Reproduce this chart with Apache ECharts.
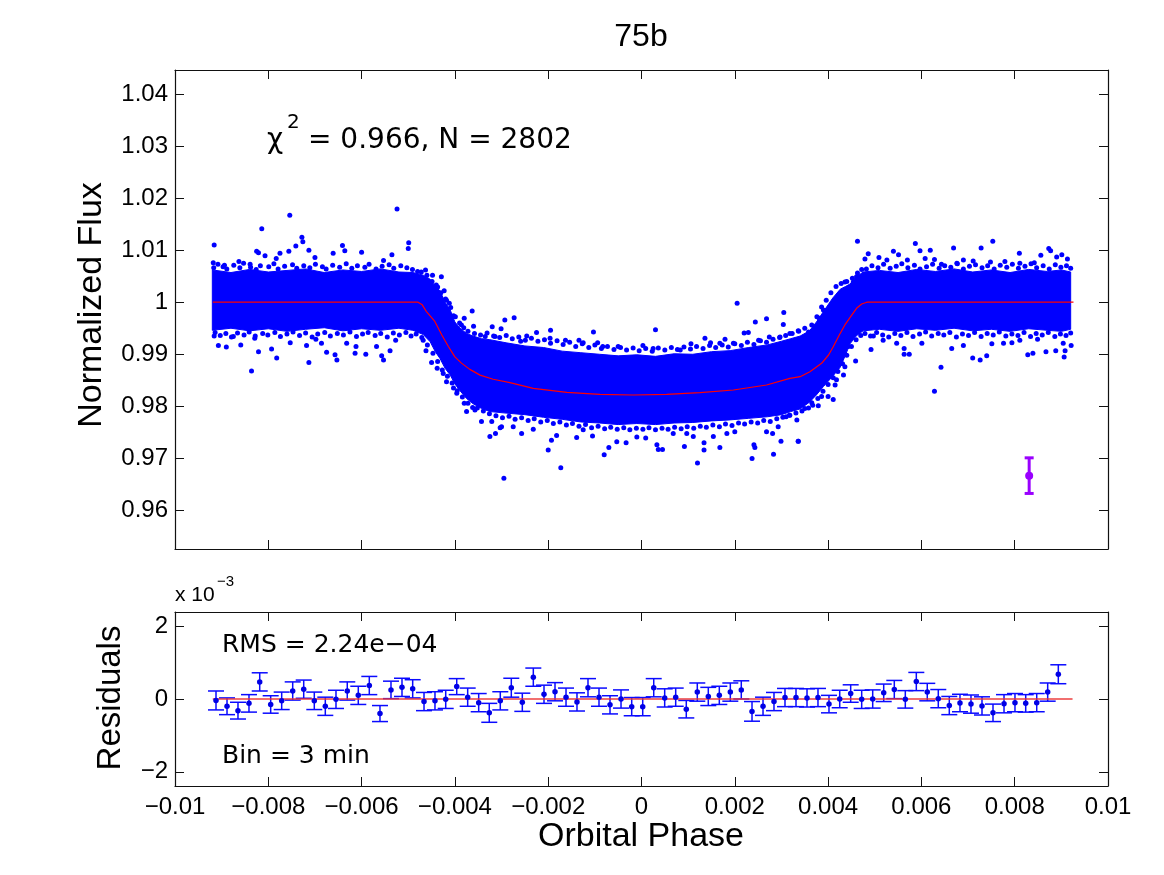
<!DOCTYPE html>
<html><head><meta charset="utf-8">
<script src="https://cdn.jsdelivr.net/npm/echarts@6/dist/echarts.min.js"></script>
<style>html,body{margin:0;padding:0;background:#fff}#c{width:1164px;height:875px}</style>
</head><body><div id="c"></div><script>
// ---------- tick labels ----------
const phaseTicks = [-0.01,-0.008,-0.006,-0.004,-0.002,0,0.002,0.004,0.006,0.008,0.01];
const fluxTicks = [0.96,0.97,0.98,0.99,1,1.01,1.02,1.03,1.04];
const residTicks = [-2,0,2];

// ---------- transit model (red curve) ----------
const modelPhase = [-0.00919,-0.00479,-0.00470,-0.00461,-0.00443,-0.00428,-0.00414,-0.00400,-0.00386,-0.00368,-0.00346,-0.00318,-0.00282,-0.00232,-0.00160,-0.00089,-0.00018,0.00054,0.00125,0.00197,0.00268,0.00318,0.00340,0.00361,0.00386,0.00401,0.00411,0.00424,0.00436,0.00451,0.00461,0.00472,0.00483,0.00926];
const modelFlux = [1,1,0.9995,0.9982,0.9963,0.9937,0.9915,0.9895,0.9883,0.9871,0.9860,0.9852,0.98455,0.98346,0.98269,0.98231,0.98218,0.98231,0.98263,0.98314,0.98410,0.98538,0.98570,0.98666,0.98826,0.98986,0.99146,0.99370,0.99563,0.99755,0.99883,0.99966,1,1];

// ---------- dense core of the photometry cloud (upper / lower envelope) ----------
const bandPhase = [-0.0092,-0.0088,-0.0084,-0.0080,-0.0076,-0.0072,-0.0068,-0.0064,-0.0060,-0.0056,-0.0052,-0.0049,
  -0.00468,-0.00453,-0.00442,-0.00432,-0.00421,-0.0041,-0.0040,-0.00389,-0.00375,-0.00361,-0.00343,-0.00325,
  -0.0029,-0.0025,-0.0021,-0.0017,-0.0013,-0.0009,-0.0005,-0.0001,0.0003,0.0007,0.0011,0.0015,0.0019,0.0023,0.0027,0.0030,
  0.0032,0.0034,0.0036,0.00375,0.0039,0.0041,0.00426,0.00437,0.00447,0.0046,0.00475,
  0.0051,0.0055,0.0059,0.0063,0.0067,0.0071,0.0075,0.0079,0.0083,0.0087,0.0090,0.0092];
const bandUpper = [1.0062,1.0057,1.0063,1.0058,1.0061,1.0064,1.0057,1.0062,1.0059,1.0064,1.0058,1.0057,
  1.0052,1.0044,1.0030,1.0022,1.0000,0.9985,0.9962,0.9950,0.9940,0.9935,0.9930,0.9928,
  0.9922,0.9916,0.9913,0.9906,0.9903,0.9900,0.9897,0.9899,0.9896,0.9901,0.9900,0.9905,0.9907,0.9913,0.9918,0.9925,
  0.9930,0.9935,0.9945,0.9962,0.9982,1.0008,1.0025,1.0030,1.0035,1.0048,1.0058,
  1.0061,1.0057,1.0063,1.0059,1.0064,1.0058,1.0062,1.0057,1.0063,1.0059,1.0062,1.0058];
const bandLower = [0.9946,0.9950,0.9945,0.9949,0.9944,0.9948,0.9951,0.9945,0.9949,0.9946,0.9950,0.9946,
  0.9938,0.9924,0.9905,0.9892,0.9873,0.9860,0.9843,0.9830,0.9815,0.9805,0.9796,0.9790,
  0.9787,0.9784,0.9779,0.9775,0.9770,0.9768,0.9765,0.9767,0.9765,0.9768,0.9769,0.9772,0.9774,0.9777,0.9780,0.9784,
  0.9790,0.9795,0.9808,0.9822,0.9838,0.9858,0.9875,0.9898,0.9920,0.9935,0.9945,
  0.9948,0.9944,0.9949,0.9946,0.9950,0.9945,0.9948,0.9944,0.9949,0.9946,0.9944,0.9948];

// ---------- individual observations along the cloud edges ----------
const edgePoints = [
[-0.00917,1.0066],[-0.00908,1.0073],[-0.00897,1.0068],[-0.00889,1.0064],[-0.00874,1.0071],[-0.00861,1.0066],[-0.00853,1.0075],[-0.00838,1.0067],[-0.00826,1.0063],[-0.00817,1.0070],[-0.00799,1.0068],[-0.00788,1.0074],[-0.00779,1.0064],[-0.00765,1.0069],[-0.00748,1.0072],[-0.00739,1.0065],[-0.00724,1.0070],[-0.00711,1.0066],[-0.00699,1.0073],[-0.00684,1.0068],[-0.00676,1.0064],[-0.00662,1.0071],[-0.00647,1.0067],[-0.00633,1.0074],[-0.00621,1.0065],[-0.00609,1.0070],[-0.00593,1.0067],[-0.00584,1.0073],[-0.00569,1.0064],[-0.00556,1.0069],[-0.00541,1.0072],[-0.00531,1.0065],[-0.00516,1.0070],[-0.00503,1.0066],[-0.00491,1.0063],[-0.00480,1.0059],
[-0.00914,0.9942],[-0.00903,0.9936],[-0.00891,0.9940],[-0.00879,0.9933],[-0.00866,0.9941],[-0.00852,0.9937],[-0.00841,0.9943],[-0.00828,0.9935],[-0.00812,0.9940],[-0.00801,0.9937],[-0.00786,0.9942],[-0.00774,0.9934],[-0.00760,0.9939],[-0.00747,0.9943],[-0.00733,0.9936],[-0.00720,0.9941],[-0.00706,0.9933],[-0.00694,0.9939],[-0.00679,0.9942],[-0.00667,0.9935],[-0.00652,0.9940],[-0.00639,0.9937],[-0.00625,0.9943],[-0.00611,0.9934],[-0.00598,0.9939],[-0.00586,0.9942],[-0.00571,0.9936],[-0.00559,0.9940],[-0.00545,0.9933],[-0.00532,0.9941],[-0.00519,0.9937],[-0.00505,0.9942],[-0.00494,0.9935],[-0.00483,0.9939],
[0.00482,1.0064],[0.00494,1.0070],[0.00507,1.0066],[0.00519,1.0073],[0.00533,1.0065],[0.00546,1.0069],[0.00558,1.0074],[0.00571,1.0066],[0.00585,1.0071],[0.00597,1.0064],[0.00611,1.0068],[0.00624,1.0073],[0.00638,1.0065],[0.00650,1.0070],[0.00663,1.0067],[0.00677,1.0074],[0.00690,1.0064],[0.00703,1.0069],[0.00716,1.0072],[0.00730,1.0066],[0.00742,1.0070],[0.00756,1.0064],[0.00769,1.0071],[0.00783,1.0067],[0.00795,1.0073],[0.00808,1.0065],[0.00822,1.0069],[0.00835,1.0074],[0.00847,1.0066],[0.00861,1.0070],[0.00874,1.0064],[0.00887,1.0072],[0.00899,1.0067],[0.00911,1.0070],[0.00920,1.0065],
[0.00479,0.9940],[0.00491,0.9935],[0.00504,0.9942],[0.00517,0.9937],[0.00530,0.9933],[0.00543,0.9940],[0.00556,0.9936],[0.00569,0.9942],[0.00582,0.9934],[0.00596,0.9939],[0.00609,0.9943],[0.00622,0.9935],[0.00636,0.9940],[0.00648,0.9937],[0.00661,0.9942],[0.00675,0.9933],[0.00688,0.9939],[0.00701,0.9936],[0.00714,0.9942],[0.00728,0.9934],[0.00741,0.9940],[0.00754,0.9937],[0.00767,0.9943],[0.00781,0.9935],[0.00794,0.9939],[0.00807,0.9936],[0.00820,0.9942],[0.00834,0.9934],[0.00846,0.9940],[0.00859,0.9937],[0.00872,0.9942],[0.00886,0.9934],[0.00898,0.9939],[0.00910,0.9936],[0.00920,0.9941],
[-0.00372,0.9944],[-0.00358,0.9940],[-0.00345,0.9937],[-0.00331,0.9941],[-0.00317,0.9935],[-0.00304,0.9932],[-0.00290,0.9936],[-0.00277,0.9930],[-0.00263,0.9933],[-0.00249,0.9927],[-0.00236,0.9931],[-0.00222,0.9925],[-0.00208,0.9928],[-0.00195,0.9921],[-0.00181,0.9926],[-0.00168,0.9919],[-0.00154,0.9923],[-0.00141,0.9915],[-0.00127,0.9920],[-0.00113,0.9913],[-0.00100,0.9918],[-0.00086,0.9911],[-0.00073,0.9915],[-0.00059,0.9909],[-0.00045,0.9913],[-0.00032,0.9908],[-0.00018,0.9912],[-0.00005,0.9907],[0.00009,0.9911],[0.00023,0.9906],[0.00036,0.9912],[0.00050,0.9908],[0.00064,0.9913],[0.00077,0.9909],[0.00091,0.9914],[0.00105,0.9910],[0.00118,0.9915],[0.00132,0.9911],[0.00146,0.9917],[0.00159,0.9913],[0.00173,0.9918],[0.00186,0.9914],[0.00200,0.9920],[0.00214,0.9917],[0.00227,0.9923],[0.00241,0.9919],[0.00255,0.9926],[0.00268,0.9923],[0.00282,0.9929],[0.00296,0.9932],[0.00309,0.9936],[0.00323,0.9940],[0.00337,0.9944],[0.00350,0.9950],
[-0.00352,0.9797],[-0.00339,0.9791],[-0.00326,0.9786],[-0.00312,0.9782],[-0.00298,0.9778],[-0.00284,0.9781],[-0.00271,0.9775],[-0.00257,0.9778],[-0.00243,0.9773],[-0.00230,0.9776],[-0.00216,0.9770],[-0.00202,0.9773],[-0.00189,0.9767],[-0.00175,0.9770],[-0.00161,0.9764],[-0.00148,0.9767],[-0.00134,0.9762],[-0.00120,0.9765],[-0.00107,0.9759],[-0.00093,0.9762],[-0.00079,0.9757],[-0.00066,0.9760],[-0.00052,0.9756],[-0.00038,0.9759],[-0.00025,0.9755],[-0.00011,0.9758],[0.00003,0.9756],[0.00016,0.9759],[0.00030,0.9755],[0.00044,0.9758],[0.00057,0.9756],[0.00071,0.9760],[0.00085,0.9757],[0.00098,0.9761],[0.00112,0.9758],[0.00126,0.9762],[0.00139,0.9760],[0.00153,0.9764],[0.00167,0.9761],[0.00180,0.9766],[0.00194,0.9763],[0.00208,0.9768],[0.00221,0.9766],[0.00235,0.9770],[0.00249,0.9768],[0.00262,0.9773],[0.00276,0.9771],[0.00290,0.9776],[0.00303,0.9779],[0.00317,0.9783],[0.00331,0.9787],[0.00344,0.9791],[0.00358,0.9797],
[-0.00472,1.0058],[-0.00460,1.0052],[-0.00449,1.0040],[-0.00440,1.0033],[-0.00430,1.0018],[-0.00420,1.0006],[-0.00409,0.9990],[-0.00399,0.9972],[-0.00390,0.9960],[-0.00381,0.9951],[-0.00386,0.9956],
[-0.00471,0.9932],[-0.00459,0.9918],[-0.00447,0.9902],[-0.00437,0.9886],[-0.00427,0.9870],[-0.00416,0.9858],[-0.00406,0.9845],[-0.00395,0.9830],[-0.00384,0.9818],[-0.00372,0.9806],[-0.00362,0.9798],
[0.00365,0.9956],[0.00376,0.9972],[0.00386,0.9991],[0.00396,1.0004],[0.00406,1.0018],[0.00417,1.0030],[0.00428,1.0036],[0.00440,1.0040],[0.00452,1.0046],[0.00463,1.0056],[0.00472,1.0063],
[0.00367,0.9802],[0.00378,0.9815],[0.00389,0.9829],[0.00400,0.9842],[0.00411,0.9855],[0.00421,0.9867],[0.00431,0.9882],[0.00440,0.9898],[0.00450,0.9915],[0.00460,0.9928],[0.00470,0.9936]
];

// ---------- scattered outlying observations ----------
const outlierPoints = [
[-0.00916,1.0110],[-0.00754,1.0167],[-0.00814,1.0141],[-0.00524,1.0179],[-0.00728,1.0125],[-0.00726,1.0116],[-0.00741,1.0108],[-0.00825,1.0098],[-0.00821,1.0095],[-0.00918,1.0076],[-0.00641,1.0109],[-0.00636,1.0099],[-0.00600,1.0096],[-0.00499,1.0114],[-0.00500,1.0103],[-0.00535,1.0091],[-0.00553,1.0080],[-0.00661,1.0094],[-0.00713,1.0100],[-0.00700,1.0086],[-0.00756,1.0098],[-0.00775,1.0094],[-0.00807,1.0089],[-0.00863,1.0078],[-0.00839,1.0073],[-0.00783,1.0084],[-0.00894,1.0071],
[-0.00463,1.0062],[-0.00429,1.0049],[-0.00448,1.0052],[-0.00437,1.0029],[-0.00423,1.0022],[-0.00418,1.0004],[-0.00412,0.9998],[-0.00403,0.9974],[-0.00380,0.9969],[-0.00363,0.9983],[-0.00360,0.9954],[-0.00320,0.9953],[-0.00301,0.9949],[-0.00293,0.9966],[-0.00335,0.9934],[-0.00314,0.9934],
[-0.00836,0.9868],[-0.00713,0.9884],[-0.00916,0.9935],[-0.00907,0.9917],[-0.00890,0.9914],[-0.00859,0.9918],[-0.00821,0.9905],[-0.00782,0.9893],[-0.00793,0.9910],[-0.00753,0.9922],[-0.00698,0.9929],[-0.00675,0.9904],[-0.00657,0.9899],[-0.00653,0.9889],[-0.00614,0.9902],[-0.00591,0.9900],[-0.00557,0.9897],[-0.00553,0.9889],[-0.00539,0.9907],[-0.00527,0.9927],[-0.00612,0.9915],[-0.00718,0.9917],[-0.00829,0.9931],[-0.00875,0.9934],[-0.00568,0.9915],[-0.00632,0.9921],[-0.00686,0.9921],
[-0.00468,0.9927],[-0.00462,0.9907],[-0.00450,0.9884],[-0.00438,0.9873],[-0.00425,0.9863],[-0.00418,0.9847],[-0.00403,0.9835],[-0.00396,0.9825],[-0.00380,0.9806],[-0.00375,0.9790],[-0.00357,0.9793],[-0.00343,0.9771],[-0.00325,0.9742],[-0.00313,0.9748],[-0.00300,0.9761],[-0.00321,0.9771],[-0.00295,0.9662],
[-0.00273,0.9970],[-0.00195,0.9946],[-0.00225,0.9942],[-0.00246,0.9935],[-0.00196,0.9931],[-0.00259,0.9925],[-0.00103,0.9943],[-0.00163,0.9927],[-0.00134,0.9927],[-0.00125,0.9922],[-0.00094,0.9922],[-0.00083,0.9915],[-0.00050,0.9915],[0.00030,0.9947],[0.00003,0.9917],[0.00025,0.9911],[0.00083,0.9908],[0.00106,0.9920],[0.00136,0.9931],[0.00148,0.9922],[0.00168,0.9921],[0.00179,0.9929],[0.00205,0.9998],[0.00244,0.9962],[0.00268,0.9968],[0.00305,0.9980],[0.00304,0.9957],[0.00220,0.9941],[0.00229,0.9942],[0.00251,0.9927],[0.00274,0.9933],[0.00297,0.9933],[0.00318,0.9940],[0.00336,0.9945],[0.00358,0.9943],[0.00372,0.9951],[0.00381,0.9969],[0.00197,0.9921],
[-0.00173,0.9682],[-0.00200,0.9716],[-0.00193,0.9735],[-0.00182,0.9744],[-0.00139,0.9740],[-0.00105,0.9743],[-0.00080,0.9707],[-0.00070,0.9721],[-0.00053,0.9732],[-0.00033,0.9730],[-0.00010,0.9741],[0.00009,0.9739],[0.00033,0.9726],[0.00036,0.9717],[0.00045,0.9717],[0.00092,0.9723],[0.00120,0.9691],[0.00134,0.9730],[0.00134,0.9716],[0.00168,0.9721],[0.00200,0.9751],[0.00237,0.9700],[0.00241,0.9726],[0.00243,0.9721],[0.00268,0.9751],[0.00281,0.9748],[0.00283,0.9708],[0.00299,0.9733],[0.00310,0.9780],[0.00336,0.9733],[0.00293,0.9761],[-0.00257,0.9748],[-0.00275,0.9761],[-0.00232,0.9756],[-0.00303,0.9759],[0.00068,0.9748],[0.00097,0.9748],[0.00154,0.9742],[0.00111,0.9742],[0.00183,0.9748],[-0.00125,0.9755],
[0.00463,1.0117],[0.00587,1.0113],[0.00753,1.0117],[0.00669,1.0104],[0.00728,1.0104],[0.00619,1.0100],[0.00597,1.0099],[0.00540,1.0098],[0.00486,1.0093],[0.00479,1.0083],[0.00509,1.0086],[0.00551,1.0091],[0.00570,1.0081],[0.00608,1.0084],[0.00628,1.0082],[0.00643,1.0073],[0.00690,1.0081],[0.00711,1.0079],[0.00748,1.0077],[0.00779,1.0078],[0.00810,1.0094],[0.00842,1.0076],[0.00856,1.0090],[0.00873,1.0103],[0.00877,1.0099],[0.00901,1.0091],[0.00913,1.0083],[0.00890,1.0087],[0.00811,1.0075],[0.00676,1.0075],[0.00526,1.0081],[0.00436,1.0039],[0.00461,1.0049],[0.00390,0.9985],[0.00397,0.9966],[0.00426,1.0017],[0.00454,1.0039],
[0.00642,0.9875],[0.00628,0.9829],[0.00459,0.9887],[0.00492,0.9909],[0.00563,0.9911],[0.00563,0.9900],[0.00574,0.9900],[0.00710,0.9893],[0.00726,0.9889],[0.00740,0.9897],[0.00828,0.9899],[0.00839,0.9902],[0.00867,0.9905],[0.00888,0.9907],[0.00906,0.9895],[0.00908,0.9907],[0.00921,0.9917],[0.00904,0.9921],[0.00665,0.9911],[0.00690,0.9917],[0.00751,0.9920],[0.00776,0.9921],[0.00794,0.9922],[0.00811,0.9927],[0.00849,0.9929],[0.00601,0.9921],[0.00547,0.9921],[0.00518,0.9927],[0.00497,0.9935],[0.00443,0.9915],[0.00436,0.9876],[0.00433,0.9860],[0.00415,0.9841],[0.00411,0.9813],[0.00400,0.9819],[0.00386,0.9819],[0.00379,0.9801],[0.00365,0.9807],[0.00350,0.9796],[0.00333,0.9774],[0.00336,0.9733],[0.00318,0.9783],[0.00418,0.9851],[0.00429,0.9895]
];

// ---------- typical point error (purple) ----------
const refPhase = [0.00831];
const refFlux = [0.96669];
const refErr = [0.00342];

// ---------- binned residuals (units of 1e-3) ----------
const binPhase = [-0.009121,-0.008885,-0.008650,-0.008414,-0.008184,-0.007949,-0.007713,-0.007477,-0.007241,-0.007014,-0.006778,-0.006549,-0.006307,-0.006071,-0.005835,-0.005606,-0.005370,-0.005134,-0.004905,-0.004662,-0.004427,-0.004197,-0.003961,-0.003726,-0.003490,-0.003263,-0.003027,-0.002791,-0.002555,-0.002319,-0.002090,-0.001854,-0.001618,-0.001383,-0.001147,-0.000911,-0.000675,-0.000439,-0.000210,0.000026,0.000262,0.000497,0.000733,0.000960,0.001196,0.001432,0.001668,0.001904,0.002139,0.002369,0.002605,0.002840,0.003076,0.003312,0.003548,0.003783,0.004019,0.004249,0.004484,0.004720,0.004956,0.005192,0.005419,0.005655,0.005891,0.006126,0.006362,0.006598,0.006827,0.007063,0.007299,0.007535,0.007771,0.008006,0.008236,0.008472,0.008707,0.008935];
const binResid = [-0.04,-0.20,-0.32,-0.12,0.47,-0.15,-0.05,0.22,0.27,-0.05,-0.20,-0.01,0.22,0.10,0.37,-0.40,0.25,0.32,0.28,-0.07,-0.05,-0.01,0.34,0.05,-0.10,-0.38,-0.05,0.31,-0.09,0.60,0.13,0.20,0.05,-0.08,0.31,0.05,-0.16,0.00,-0.21,-0.21,0.31,0.03,0.05,-0.28,0.19,0.07,0.10,0.19,0.25,-0.34,-0.20,-0.07,0.04,0.04,0.03,0.04,-0.14,0.00,0.15,-0.01,0.00,0.17,0.26,-0.01,0.48,0.19,0.01,-0.18,-0.11,-0.14,-0.19,-0.38,-0.13,-0.10,-0.12,-0.10,0.19,0.68];
const binErr = [0.26,0.23,0.23,0.24,0.25,0.24,0.24,0.25,0.25,0.24,0.25,0.25,0.25,0.25,0.25,0.22,0.24,0.25,0.25,0.25,0.25,0.25,0.22,0.25,0.25,0.26,0.25,0.26,0.25,0.25,0.25,0.25,0.25,0.25,0.25,0.25,0.25,0.25,0.25,0.25,0.25,0.25,0.25,0.24,0.25,0.25,0.25,0.25,0.25,0.27,0.25,0.25,0.25,0.25,0.25,0.25,0.24,0.24,0.24,0.25,0.25,0.24,0.25,0.24,0.25,0.24,0.25,0.25,0.24,0.25,0.25,0.24,0.25,0.25,0.24,0.25,0.25,0.26];
const resModelPhase = [-0.00919, 0.00924];
const resModelValue = [0, 0];

// ---------- helpers ----------
const FONT = '"Liberation Sans", Arial, Helvetica, sans-serif';
const DFONT = '"DejaVu Sans", "Liberation Sans", sans-serif';
function fmtNum(v){ const s = String(parseFloat(Math.abs(v).toFixed(6))); return (v < -1e-12 ? '\u2212' : '') + s; }
function labelFmt(list){ return function(v){ return list.some(t => Math.abs(t - v) < 1e-7) ? fmtNum(v) : ''; }; }
const axisLineStyle = {show:true, onZero:false, lineStyle:{color:'#111', width:1.2}};
const tickStyle = {show:true, inside:true, length:9, lineStyle:{color:'#111', width:1}};

function xAx(grid, pos, showLabel){
  return {type:'value', gridIndex:grid, position:pos, min:-0.01, max:0.01, interval:0.002,
    axisLine:axisLineStyle, axisTick:tickStyle, splitLine:{show:false},
    axisLabel:{show:showLabel, formatter:labelFmt(phaseTicks), fontSize:24, fontFamily:FONT, color:'#000', margin:9}};
}
function yAx(grid, pos, showLabel, mn, mx, split, ticks){
  return {type:'value', gridIndex:grid, position:pos, min:mn, max:mx, splitNumber:split, scale:true,
    axisLine:axisLineStyle, axisTick:tickStyle, splitLine:{show:false},
    axisLabel:{show:showLabel, formatter:labelFmt(ticks), fontSize:24, fontFamily:FONT, color:'#000', margin:7}};
}

const chart = echarts.init(document.getElementById('c'), null, {renderer:'canvas'});
const option = {
  animation:false,
  backgroundColor:'#fff',
  textStyle:{fontFamily:FONT},
  grid:[
    {left:175, top:70, width:933, height:479},
    {left:175, top:612, width:933, height:174}
  ],
  xAxis:[ xAx(0,'bottom',false), xAx(0,'top',false), xAx(1,'bottom',true), xAx(1,'top',false) ],
  yAxis:[
    yAx(0,'left',true,0.9526,1.0446,9,fluxTicks),
    yAx(0,'right',false,0.9526,1.0446,9,fluxTicks),
    yAx(1,'left',true,-2.39,2.39,2,residTicks),
    yAx(1,'right',false,-2.39,2.39,2,residTicks)
  ],
  series:[
    { type:'custom', xAxisIndex:0, yAxisIndex:0, silent:true, z:1,
      data: bandPhase.map((p,i)=>[p, bandUpper[i], bandLower[i]]),
      encode:{x:0, y:[1,2]},
      renderItem:function(params, api){
        if (params.dataIndex !== 0) return null;
        const pts = [];
        for (let i=0;i<bandPhase.length;i++) pts.push(api.coord([bandPhase[i], bandUpper[i]]));
        for (let i=bandPhase.length-1;i>=0;i--) pts.push(api.coord([bandPhase[i], bandLower[i]]));
        return {type:'polygon', shape:{points:pts}, style:{fill:'#0000ff', stroke:'#0000ff', lineWidth:1}};
      }
    },
    { type:'scatter', xAxisIndex:0, yAxisIndex:0, silent:true, z:2,
      data: edgePoints.concat(outlierPoints), symbolSize:5, itemStyle:{color:'#0000ff', opacity:1} },
    { type:'line', xAxisIndex:0, yAxisIndex:0, silent:true, z:3, showSymbol:false,
      data: modelPhase.map((p,i)=>[p, modelFlux[i]]), lineStyle:{color:'#ff0000', width:1.2} },
    { type:'custom', xAxisIndex:0, yAxisIndex:0, silent:true, z:4,
      data: refPhase.map((p,i)=>[p, refFlux[i], refErr[i]]),
      renderItem:function(params, api){
        const x = api.value(0), y = api.value(1), e = api.value(2);
        const t = api.coord([x, y+e]), b = api.coord([x, y-e]), c = api.coord([x, y]);
        const st = {stroke:'#9a00ff', lineWidth:3};
        return {type:'group', children:[
          {type:'line', shape:{x1:t[0],y1:t[1],x2:b[0],y2:b[1]}, style:st},
          {type:'line', shape:{x1:t[0]-4.5,y1:t[1],x2:t[0]+4.5,y2:t[1]}, style:st},
          {type:'line', shape:{x1:b[0]-4.5,y1:b[1],x2:b[0]+4.5,y2:b[1]}, style:st},
          {type:'circle', shape:{cx:c[0], cy:c[1], r:4}, style:{fill:'#9a00ff'}}
        ]};
      }
    },
    { type:'custom', xAxisIndex:2, yAxisIndex:2, silent:true, z:1,
      data: binPhase.map((p,i)=>[p, binResid[i], binErr[i]]),
      renderItem:function(params, api){
        const x = api.value(0), y = api.value(1), e = api.value(2);
        const t = api.coord([x, y+e]), b = api.coord([x, y-e]);
        const st = {stroke:'#0a0aff', lineWidth:1.5};
        return {type:'group', children:[
          {type:'line', shape:{x1:t[0],y1:t[1],x2:b[0],y2:b[1]}, style:st},
          {type:'line', shape:{x1:t[0]-8,y1:t[1],x2:t[0]+8,y2:t[1]}, style:st},
          {type:'line', shape:{x1:b[0]-8,y1:b[1],x2:b[0]+8,y2:b[1]}, style:st}
        ]};
      }
    },
    { type:'line', xAxisIndex:2, yAxisIndex:2, silent:true, z:2, showSymbol:false,
      data: resModelPhase.map((p,i)=>[p, resModelValue[i]]), lineStyle:{color:'rgba(235,50,50,0.7)', width:2} },
    { type:'scatter', xAxisIndex:2, yAxisIndex:2, silent:true, z:3,
      data: binPhase.map((p,i)=>[p, binResid[i]]), symbolSize:5.5, itemStyle:{color:'#0000e6', opacity:1} }
  ],
  graphic:[
    {type:'text', x:641, y:37, style:{text:'75b', font:'32px '+FONT, fill:'#000', align:'center', verticalAlign:'middle', textAlign:'center', textVerticalAlign:'middle'}},
    {type:'text', x:267, y:141, style:{text:'\u03c7', font:'28px '+DFONT, fill:'#000', align:'left', verticalAlign:'middle', textAlign:'left', textVerticalAlign:'middle'}},
    {type:'text', x:287, y:123, style:{text:'2', font:'20px '+DFONT, fill:'#000', align:'left', verticalAlign:'middle', textAlign:'left', textVerticalAlign:'middle'}},
    {type:'text', x:308, y:141, style:{text:'= 0.966, N = 2802', font:'28px '+DFONT, fill:'#000', align:'left', verticalAlign:'middle', textAlign:'left', textVerticalAlign:'middle'}},
    {type:'text', x:222, y:645, style:{text:'RMS = 2.24e\u221204', font:'25px '+DFONT, fill:'#000', align:'left', verticalAlign:'middle', textAlign:'left', textVerticalAlign:'middle'}},
    {type:'text', x:222, y:756, style:{text:'Bin = 3 min', font:'25px '+DFONT, fill:'#000', align:'left', verticalAlign:'middle', textAlign:'left', textVerticalAlign:'middle'}},
    {type:'text', x:175, y:595, style:{text:'x 10', font:'21px '+FONT, fill:'#000', align:'left', verticalAlign:'middle', textAlign:'left', textVerticalAlign:'middle'}},
    {type:'text', x:217, y:582, style:{text:'\u22123', font:'15px '+FONT, fill:'#000', align:'left', verticalAlign:'middle', textAlign:'left', textVerticalAlign:'middle'}},
    {type:'text', x:92, y:305, rotation:Math.PI/2, style:{text:'Normalized Flux', font:'34px '+FONT, fill:'#000', align:'center', verticalAlign:'middle', textAlign:'center', textVerticalAlign:'middle'}},
    {type:'text', x:111, y:698, rotation:Math.PI/2, style:{text:'Residuals', font:'33px '+FONT, fill:'#000', align:'center', verticalAlign:'middle', textAlign:'center', textVerticalAlign:'middle'}},
    {type:'text', x:641, y:837, style:{text:'Orbital Phase', font:'34px '+FONT, fill:'#000', align:'center', verticalAlign:'middle', textAlign:'center', textVerticalAlign:'middle'}}
  ]
};
chart.setOption(option);
</script></body></html>
